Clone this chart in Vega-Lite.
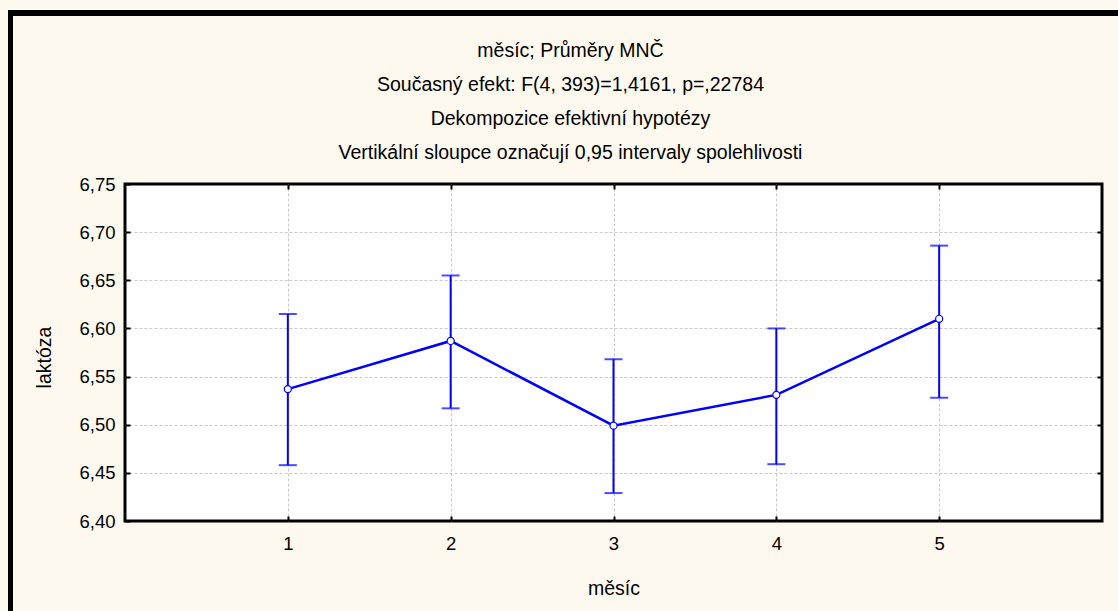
{
  "$schema": "https://vega.github.io/schema/vega-lite/v6.json",
  "padding": {"left": 7, "top": 10, "right": 0, "bottom": 0},
  "background": "#FEF9EE",
  "bounds": "flush",
  "spacing": 0,
  "hconcat": [
    {
      "width": 5,
      "height": 601,
      "view": {"fill": "black", "stroke": null},
      "data": {"values": [{"a": 0}]},
      "mark": {"type": "point", "opacity": 0},
      "encoding": {}
    },
    {
      "bounds": "flush",
      "spacing": 168,
      "vconcat": [
        {
          "width": 1106,
          "height": 6,
          "view": {"fill": "black", "stroke": null},
          "data": {"values": [{"a": 0}]},
          "mark": {"type": "point", "opacity": 0},
          "encoding": {}
        },
        {
          "bounds": "flush",
          "spacing": 111,
          "hconcat": [
            {
              "width": 1,
              "height": 337,
              "view": {"fill": null, "stroke": null},
              "data": {"values": [{"a": 0}]},
              "mark": {"type": "point", "opacity": 0},
              "encoding": {}
            },
            {
              "width": 977,
              "height": 337,
              "view": {"fill": "white", "stroke": "black", "strokeWidth": 3},
              "title": {
                "text": ["měsíc; Průměry MNČ", "Současný efekt: F(4, 393)=1,4161, p=,22784", "Dekompozice efektivní hypotézy", "Vertikální sloupce označují 0,95 intervaly spolehlivosti"],
                "font": "Liberation Sans",
                "fontSize": 19.5,
                "fontWeight": "normal",
                "color": "black",
                "lineHeight": 34,
                "anchor": "middle",
                "dx": -43,
                "offset": -3,
                "baseline": "alphabetic"
              },
              "data": {
                "values": [
                  {"mesic": 1, "mean": 6.537, "lo": 6.458, "hi": 6.615},
                  {"mesic": 2, "mean": 6.587, "lo": 6.517, "hi": 6.655},
                  {"mesic": 3, "mean": 6.499, "lo": 6.429, "hi": 6.568},
                  {"mesic": 4, "mean": 6.531, "lo": 6.459, "hi": 6.600},
                  {"mesic": 5, "mean": 6.610, "lo": 6.528, "hi": 6.686}
                ]
              },
              "resolve": {"axis": {"x": "independent", "y": "independent"}},
              "layer": [
                {
                  "mark": {"type": "rule", "color": "#0000FF", "strokeWidth": 2},
                  "encoding": {
                    "x": {"field": "mesic", "type": "quantitative", "scale": {"domain": [0, 6], "nice": false, "zero": false},
                      "axis": {"orient": "bottom", "title": "měsíc", "values": [1, 2, 3, 4, 5], "format": "d", "grid": false, "labelPadding": 18, "titleX": 488.5, "titleY": 73, "titleBaseline": "alphabetic", "titleAlign": "center"}},
                    "y": {"field": "lo", "type": "quantitative", "scale": {"domain": [6.4, 6.75], "nice": false, "zero": false},
                      "axis": {"orient": "left", "title": "laktóza", "values": [6.4, 6.45, 6.5, 6.55, 6.6, 6.65, 6.7, 6.75], "labelExpr": "replace(format(datum.value, '.2f'), '.', ',')", "grid": false, "labelPadding": 15, "titleX": -75, "titleY": 173, "titleAngle": -90, "titleBaseline": "alphabetic", "titleAlign": "center"}},
                    "y2": {"field": "hi"}
                  }
                },
                {
                  "mark": {"type": "tick", "orient": "horizontal", "color": "#0000FF", "size": 18, "thickness": 2},
                  "encoding": {
                    "x": {"field": "mesic", "type": "quantitative", "axis": {"orient": "top", "title": null, "values": [1, 2, 3, 4, 5], "labels": false, "grid": true}},
                    "y": {"field": "lo", "type": "quantitative", "axis": {"orient": "right", "title": null, "values": [6.45, 6.5, 6.55, 6.6, 6.65, 6.7], "labels": false, "grid": true}}
                  }
                },
                {
                  "mark": {"type": "tick", "orient": "horizontal", "color": "#0000FF", "size": 18, "thickness": 2},
                  "encoding": {
                    "x": {"field": "mesic", "type": "quantitative", "axis": null},
                    "y": {"field": "hi", "type": "quantitative", "axis": null}
                  }
                },
                {
                  "mark": {"type": "line", "color": "#0000FF", "strokeWidth": 2.5},
                  "encoding": {
                    "x": {"field": "mesic", "type": "quantitative", "axis": null},
                    "y": {"field": "mean", "type": "quantitative", "axis": null}
                  }
                },
                {
                  "mark": {"type": "point", "shape": "circle", "filled": true, "fill": "white", "stroke": "#0000FF", "strokeWidth": 1.2, "size": 50, "opacity": 1},
                  "encoding": {
                    "x": {"field": "mesic", "type": "quantitative", "axis": null},
                    "y": {"field": "mean", "type": "quantitative", "axis": null}
                  }
                }
              ]
            }
          ]
        }
      ]
    }
  ],
  "config": {
    "view": {"stroke": null},
    "axis": {
      "labelFont": "Liberation Sans",
      "labelFontSize": 18.5,
      "labelColor": "black",
      "titleFont": "Liberation Sans",
      "titleFontSize": 19.5,
      "titleFontWeight": "normal",
      "titleColor": "black",
      "domain": false,
      "tickColor": "black",
      "tickWidth": 2,
      "tickSize": -5,
      "gridColor": "#c8c8c8",
      "gridDash": [3, 2],
      "gridWidth": 1
    }
  }
}
